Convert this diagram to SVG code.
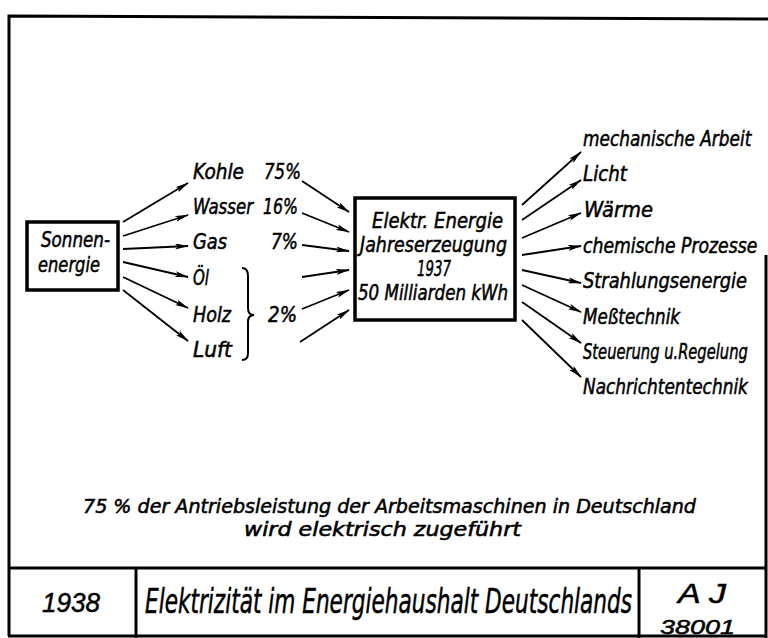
<svg xmlns="http://www.w3.org/2000/svg" width="768" height="638" viewBox="0 0 768 638">
<defs>
<marker id="ah" viewBox="0 0 14 6" refX="13" refY="3" markerWidth="14" markerHeight="6" markerUnits="userSpaceOnUse" orient="auto">
<path d="M0,0 L14,3 L0,6 L3,3 z" fill="#000"/>
</marker>
<style>
text{font-family:"DejaVu Sans Condensed","DejaVu Sans","Liberation Sans",sans-serif;font-stretch:condensed;font-style:italic;fill:#000;stroke:#000;stroke-width:0.5}
.lbl{font-size:22px}
.sans{font-family:"Liberation Sans",sans-serif;font-stretch:normal}
.box{fill:#fff;stroke:#000;stroke-width:3.5}
.frame{fill:none;stroke:#000;stroke-width:3}
.arr{stroke:#000;stroke-width:1.8;fill:none;marker-end:url(#ah)}
</style>
</defs>
<rect width="768" height="638" fill="#fff"/>
<g id="frame">
<path class="frame" d="M9,636 L9,16 L768,19"/>
<path class="frame" d="M766,255 L766,638"/>
<path class="frame" d="M8,636 L766,636"/>
<path class="frame" d="M8,568 L766,568"/>
<path class="frame" d="M136,568 L136,638"/>
<path class="frame" d="M639,568 L639,638"/>
</g>
<g id="sonnenenergie">
<rect class="box" x="27" y="222" width="91" height="68"/>
<text class="lbl" x="41" y="247" textLength="69" lengthAdjust="spacingAndGlyphs">Sonnen-</text>
<text class="lbl" x="38" y="272" textLength="62" lengthAdjust="spacingAndGlyphs">energie</text>
</g>
<g id="sources">
<text class="lbl" x="193" y="179" textLength="51" lengthAdjust="spacingAndGlyphs">Kohle</text>
<text class="lbl" x="264" y="179" textLength="37" lengthAdjust="spacingAndGlyphs">75%</text>
<text class="lbl" x="193" y="214" textLength="60" lengthAdjust="spacingAndGlyphs">Wasser</text>
<text class="lbl" x="263" y="214" textLength="35" lengthAdjust="spacingAndGlyphs">16%</text>
<text class="lbl" x="193" y="249" textLength="34" lengthAdjust="spacingAndGlyphs">Gas</text>
<text class="lbl" x="271" y="249" textLength="27" lengthAdjust="spacingAndGlyphs">7%</text>
<text class="lbl" x="193" y="285" textLength="16" lengthAdjust="spacingAndGlyphs">Öl</text>
<text class="lbl" x="193" y="322" textLength="38" lengthAdjust="spacingAndGlyphs">Holz</text>
<text class="lbl" x="268" y="322" textLength="29" lengthAdjust="spacingAndGlyphs">2%</text>
<text class="lbl" x="193" y="357" textLength="39" lengthAdjust="spacingAndGlyphs">Luft</text>
<path d="M242,268 Q248,268 248,276 L248,308 Q248,315 254,315 Q248,315 248,322 L248,353 Q248,360 242,360" fill="none" stroke="#000" stroke-width="2"/>
</g>
<g id="elektr">
<rect class="box" x="355" y="198" width="160" height="122"/>
<text class="lbl" x="372" y="228" textLength="131" lengthAdjust="spacingAndGlyphs">Elektr. Energie</text>
<text class="lbl" x="360" y="252" textLength="147" lengthAdjust="spacingAndGlyphs">Jahreserzeugung</text>
<text class="lbl" x="417" y="276" textLength="34" lengthAdjust="spacingAndGlyphs">1937</text>
<text class="lbl" x="358" y="300" textLength="150" lengthAdjust="spacingAndGlyphs">50 Milliarden kWh</text>
</g>
<g id="uses">
<text class="lbl" transform="translate(583 146) scale(0.85 1)" textLength="198" lengthAdjust="spacingAndGlyphs">mechanische Arbeit</text>
<text class="lbl" x="583" y="181" textLength="44" lengthAdjust="spacingAndGlyphs">Licht</text>
<text class="lbl" x="584" y="217" textLength="69" lengthAdjust="spacingAndGlyphs">Wärme</text>
<text class="lbl" transform="translate(583 253) scale(0.85 1)" textLength="205" lengthAdjust="spacingAndGlyphs">chemische Prozesse</text>
<text class="lbl" transform="translate(583 288) scale(0.85 1)" textLength="193" lengthAdjust="spacingAndGlyphs">Strahlungsenergie</text>
<text class="lbl" x="583" y="324" textLength="97" lengthAdjust="spacingAndGlyphs">Meßtechnik</text>
<text class="lbl" transform="translate(583 359) scale(0.8 1)" textLength="206" lengthAdjust="spacingAndGlyphs">Steuerung u.Regelung</text>
<text class="lbl" transform="translate(583 394) scale(0.85 1)" textLength="194" lengthAdjust="spacingAndGlyphs">Nachrichtentechnik</text>
</g>
<g id="connectors">
<line class="arr" x1="123" y1="222" x2="188" y2="183"/>
<line class="arr" x1="123" y1="236" x2="188" y2="215"/>
<line class="arr" x1="123" y1="249" x2="188" y2="246"/>
<line class="arr" x1="123" y1="262" x2="188" y2="277"/>
<line class="arr" x1="123" y1="277" x2="188" y2="308"/>
<line class="arr" x1="123" y1="290" x2="188" y2="341"/>
<line class="arr" x1="302" y1="181" x2="349" y2="212"/>
<line class="arr" x1="302" y1="213" x2="349" y2="232"/>
<line class="arr" x1="302" y1="245" x2="349" y2="251"/>
<line class="arr" x1="302" y1="277" x2="349" y2="270"/>
<line class="arr" x1="302" y1="309" x2="349" y2="290"/>
<line class="arr" x1="300" y1="342" x2="349" y2="310"/>
<line class="arr" x1="522" y1="205" x2="581" y2="152"/>
<line class="arr" x1="522" y1="220" x2="581" y2="180"/>
<line class="arr" x1="522" y1="238" x2="581" y2="213"/>
<line class="arr" x1="522" y1="255" x2="581" y2="246"/>
<line class="arr" x1="522" y1="270" x2="581" y2="283"/>
<line class="arr" x1="522" y1="285" x2="581" y2="312"/>
<line class="arr" x1="522" y1="302" x2="581" y2="343"/>
<line class="arr" x1="522" y1="320" x2="581" y2="377"/>
</g>
<g id="note">
<text x="83" y="513" font-size="19" textLength="613" lengthAdjust="spacingAndGlyphs">75 % der Antriebsleistung der Arbeitsmaschinen in Deutschland</text>
<text x="244" y="536" font-size="19" textLength="277" lengthAdjust="spacingAndGlyphs">wird elektrisch zugeführt</text>
</g>
<g id="title">
<text class="sans" x="42" y="612" font-size="27" textLength="58" lengthAdjust="spacingAndGlyphs">1938</text>
<text transform="translate(145 613) scale(0.66 1)" font-size="34" textLength="738" lengthAdjust="spacingAndGlyphs">Elektrizität im Energiehaushalt Deutschlands</text>
<text class="sans" x="678" y="603" font-size="28" textLength="48" lengthAdjust="spacingAndGlyphs">A J</text>
<text class="sans" x="660" y="634" font-size="20" textLength="75" lengthAdjust="spacingAndGlyphs">38001</text>
</g>
</svg>
